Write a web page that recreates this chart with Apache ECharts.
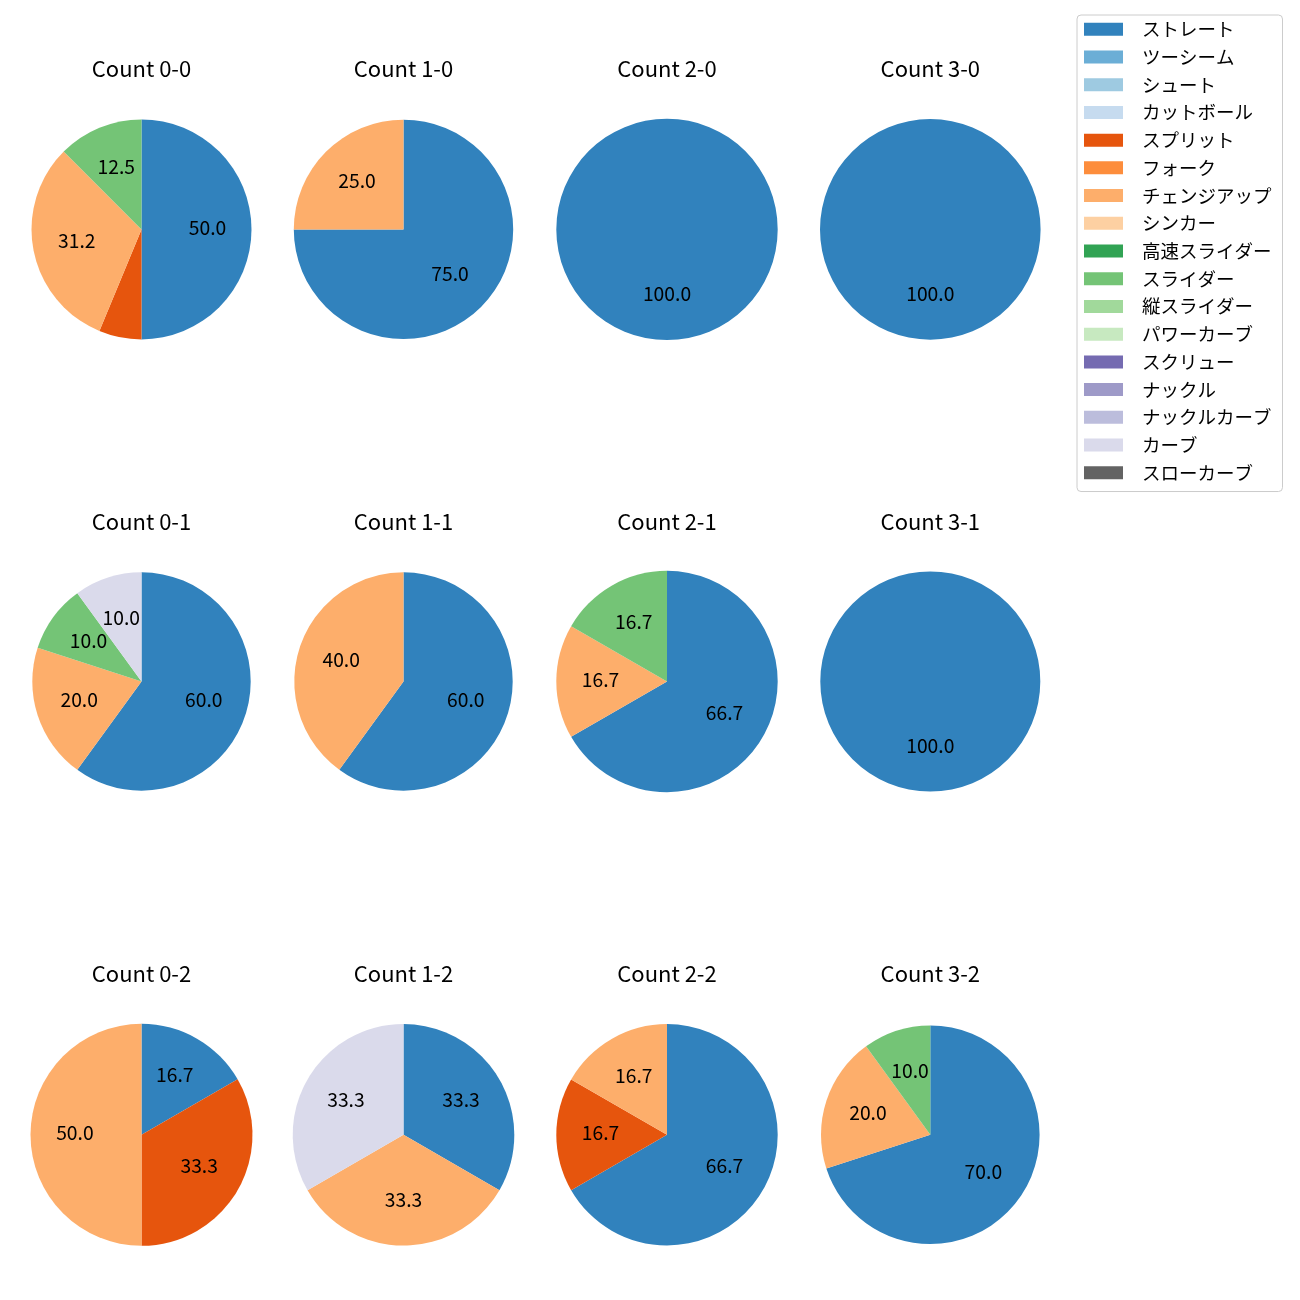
<!DOCTYPE html>
<html>
<head>
<meta charset="utf-8">
<script src="https://cdn.jsdelivr.net/npm/echarts@6/dist/echarts.min.js"></script>
<style>
html,body{margin:0;padding:0;background:#fff;}
#main{width:1300px;height:1300px;}
</style>
</head>
<body>
<div id="main"></div>
<script>
// ---- data ----
const pitchTypes = ['ストレート','ツーシーム','シュート','カットボール','スプリット','フォーク','チェンジアップ','シンカー','高速スライダー','スライダー','縦スライダー','パワーカーブ','スクリュー','ナックル','ナックルカーブ','カーブ','スローカーブ'];
const countTitles = ['Count 0-0','Count 1-0','Count 2-0','Count 3-0','Count 0-1','Count 1-1','Count 2-1','Count 3-1','Count 0-2','Count 1-2','Count 2-2','Count 3-2'];
//                 St Tw Sh Cu Sp Fk Ch Si HS Sl VS PC Sc Kn KC Cv SC
const count_0_0 = [8, 0, 0, 0, 1, 0, 5, 0, 0, 2, 0, 0, 0, 0, 0, 0, 0];
const count_1_0 = [3, 0, 0, 0, 0, 0, 1, 0, 0, 0, 0, 0, 0, 0, 0, 0, 0];
const count_2_0 = [1, 0, 0, 0, 0, 0, 0, 0, 0, 0, 0, 0, 0, 0, 0, 0, 0];
const count_3_0 = [1, 0, 0, 0, 0, 0, 0, 0, 0, 0, 0, 0, 0, 0, 0, 0, 0];
const count_0_1 = [6, 0, 0, 0, 0, 0, 2, 0, 0, 1, 0, 0, 0, 0, 0, 1, 0];
const count_1_1 = [3, 0, 0, 0, 0, 0, 2, 0, 0, 0, 0, 0, 0, 0, 0, 0, 0];
const count_2_1 = [4, 0, 0, 0, 0, 0, 1, 0, 0, 1, 0, 0, 0, 0, 0, 0, 0];
const count_3_1 = [1, 0, 0, 0, 0, 0, 0, 0, 0, 0, 0, 0, 0, 0, 0, 0, 0];
const count_0_2 = [1, 0, 0, 0, 2, 0, 3, 0, 0, 0, 0, 0, 0, 0, 0, 0, 0];
const count_1_2 = [1, 0, 0, 0, 0, 0, 1, 0, 0, 0, 0, 0, 0, 0, 0, 1, 0];
const count_2_2 = [4, 0, 0, 0, 1, 0, 1, 0, 0, 0, 0, 0, 0, 0, 0, 0, 0];
const count_3_2 = [7, 0, 0, 0, 0, 0, 2, 0, 0, 1, 0, 0, 0, 0, 0, 0, 0];
const pieValues = [count_0_0,count_1_0,count_2_0,count_3_0,count_0_1,count_1_1,count_2_1,count_3_1,count_0_2,count_1_2,count_2_2,count_3_2];

// ---- style / layout ----
const colors = ['#3182bd','#6baed6','#9ecae1','#c6dbef','#e6550d','#fd8d3c','#fdae6b','#fdd0a2','#31a354','#74c476','#a1d99b','#c7e9c0','#756bb1','#9e9ac8','#bcbddc','#dadaeb','#636363'];
const colX = [141.5, 403.5, 667, 930.3];
const rowY = [229.4, 681.5, 1134.8];
const titleY = [69, 521.5, 973.5];
const radii = [110, 109.7, 110.7, 110.3, 109.2, 109.2, 110.7, 110, 111, 110.8, 110.7, 109.3];
const FONT = '"Noto Sans CJK JP", "Noto Sans", sans-serif';

function pyFmt(p) { // python-style round-half-even to 1 decimal
  const x = p * 10;
  const f = Math.floor(x);
  let n;
  if (Math.abs(x - f - 0.5) < 1e-9) n = (f % 2 === 0) ? f : f + 1;
  else n = Math.round(x);
  return (n / 10).toFixed(1);
}

const series = [];
const overlay = [];
const titles = [];
pieValues.forEach((vals, k) => {
  const col = k % 4, row = Math.floor(k / 4);
  const cx = colX[col], cy = rowY[row], r = radii[k];
  const total = vals.reduce((a, b) => a + b, 0);
  const data = pitchTypes.map((name, i) => ({ name: name, value: vals[i], itemStyle: { color: colors[i] } }));
  series.push({
    type: 'pie', center: [cx, cy], radius: [0, r], startAngle: 90, clockwise: true,
    avoidLabelOverlap: false, silent: true, label: { show: false }, labelLine: { show: false },
    itemStyle: { borderWidth: 0 }, emphasis: { disabled: true }, data: data
  });
  // invisible ring used only to place labels at 0.6 of the radius (ECharts adds 3px outward)
  overlay.push({
    type: 'pie', center: [cx, cy], radius: [0, r * 1.2 - 6], startAngle: 90, clockwise: true,
    avoidLabelOverlap: false, silent: true, labelLine: { show: false },
    itemStyle: { color: 'rgba(0,0,0,0)', borderWidth: 0 }, emphasis: { disabled: true },
    label: {
      show: true, position: 'inside', color: '#000', fontSize: 19.3, fontFamily: FONT,
      textBorderWidth: 0, offset: [0, -2],
      formatter: (p) => { const pct = p.value / total * 100; return pct < 7 ? '' : pyFmt(pct); }
    },
    data: pitchTypes.map((name, i) => ({ name: name, value: vals[i] }))
  });
  titles.push({
    text: countTitles[k], left: cx, top: titleY[row] - 13, textAlign: 'center', padding: 0,
    textStyle: { fontSize: 22, fontWeight: 'normal', color: '#000', fontFamily: FONT, lineHeight: 26 }
  });
});

const chart = echarts.init(document.getElementById('main'), null, { renderer: 'canvas' });
chart.setOption({
  animation: false,
  backgroundColor: '#fff',
  title: titles,
  legend: {
    orient: 'vertical', left: 1077, top: 15, padding: [5, 11, 9.5, 7],
    itemWidth: 39, itemHeight: 13, itemGap: 9.22, icon: 'rect', selectedMode: false,
    borderColor: '#cccccc', borderWidth: 1, borderRadius: 4, backgroundColor: '#fff',
    textStyle: { fontSize: 18.5, fontFamily: FONT, color: '#000', padding: [0, 0, 0, 14] },
    data: pitchTypes
  },
  series: series.concat(overlay)
});
</script>
</body>
</html>
